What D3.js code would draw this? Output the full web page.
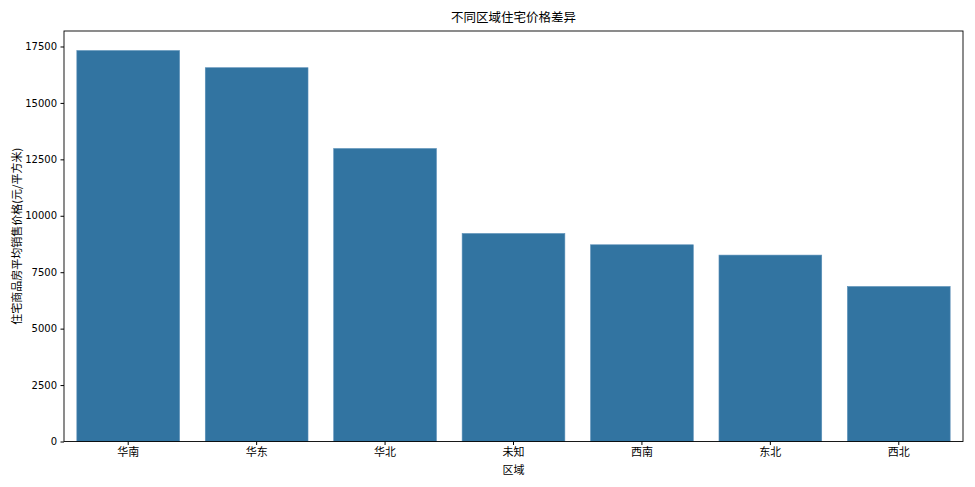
<!DOCTYPE html>
<html><head><meta charset="utf-8">
<script src="https://cdn.jsdelivr.net/npm/d3@7"></script>
<style>body{margin:0;background:#fff}svg{display:block}text{font-family:"DejaVu Sans","Noto Sans CJK SC",sans-serif}</style>
</head><body><svg id="c" width="975" height="487"></svg>
<script>
const categories = ["华南","华东","华北","未知","西南","东北","西北"];
const values = [17320, 16560, 12980, 9215, 8715, 8258, 6867];
const yTicks = [0,2500,5000,7500,10000,12500,15000,17500];

const svg = d3.select("#c");
const m = {l:64, r:963, t:31, b:441.5};
const x = d3.scaleBand().domain(categories).range([m.l, m.r]).paddingInner(0.2).paddingOuter(0.1);
const y = d3.scaleLinear().domain([0, d3.max(values)*1.05]).range([m.b, m.t]);
const cjk = '"Noto Sans CJK SC","DejaVu Sans",sans-serif';

svg.append("g").selectAll("rect").data(values).join("rect")
  .attr("x",(d,i)=>x(categories[i])).attr("width",x.bandwidth())
  .attr("y",d=>y(d)).attr("height",d=>m.b-y(d))
  .attr("fill","#3274a1").attr("stroke","#5a8fb8").attr("stroke-width",0.6);

const ya = svg.append("g").attr("transform",`translate(${m.l},0)`)
  .call(d3.axisLeft(y).tickValues(yTicks).tickFormat(d3.format("d")).tickSize(3.5).tickPadding(3.5));
ya.select(".domain").remove();
ya.selectAll("text").attr("font-size","10px").attr("fill","#000").style("font-family",'"DejaVu Sans",sans-serif');

const xa = svg.append("g").attr("transform",`translate(0,${m.b})`)
  .call(d3.axisBottom(x).tickSize(3.5).tickPadding(3.5));
xa.select(".domain").remove();
xa.selectAll("text").attr("font-size","11px").attr("fill","#000").style("font-family",cjk);

svg.append("rect").attr("x",m.l).attr("y",m.t).attr("width",m.r-m.l).attr("height",m.b-m.t)
  .attr("fill","none").attr("stroke","#000").attr("stroke-width",0.9);

svg.append("text").attr("x",(m.l+m.r)/2).attr("y",22).attr("text-anchor","middle")
  .attr("font-size","12.5px").style("font-family",cjk).text("不同区域住宅价格差异");
svg.append("text").attr("x",(m.l+m.r)/2).attr("y",474).attr("text-anchor","middle")
  .attr("font-size","11px").style("font-family",cjk).text("区域");
svg.append("text").attr("transform",`translate(21,${(m.t+m.b)/2}) rotate(-90)`).attr("text-anchor","middle")
  .attr("font-size","11px").style("font-family",cjk).text("住宅商品房平均销售价格(元/平方米)");
</script></body></html>
